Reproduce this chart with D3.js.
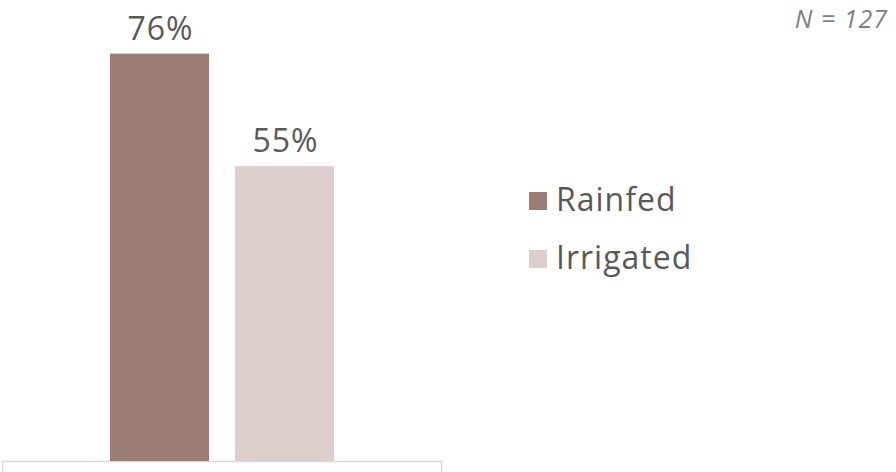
<!DOCTYPE html>
<html>
<head>
<meta charset="utf-8">
<script src="https://cdn.jsdelivr.net/npm/d3@7"></script>
<style>
  body { margin: 0; background: #fff; }
  svg { display: block; font-family: "Open Sans", sans-serif; letter-spacing: 1px; }
</style>
</head>
<body>
<div id="chart"></div>
<script>
var groups = ["All"];
var series = ["Rainfed", "Irrigated"];
var values = [76, 55];
var colors = ["#9c7d73", "#dccfcb"];
var note = "N = 127";

var svgWidth = 896;
var svgHeight = 472;

var svg = d3.select("#chart")
  .append("svg")
  .attr("width", svgWidth)
  .attr("height", svgHeight);

var baseline = 461;

var x0 = d3.scaleBand()
  .domain(groups)
  .range([2, 441]);

var x1 = d3.scaleBand()
  .domain(series)
  .range([108, 332])
  .paddingInner(0.208);

var y = d3.scaleLinear()
  .domain([0, 86])
  .range([baseline, 0]);

var bottomAxis = d3.axisBottom(x0)
  .tickSizeInner(0)
  .tickSizeOuter(14)
  .tickFormat("");

var xAxis = svg.append("g")
  .attr("transform", `translate(0, ${baseline})`)
  .call(bottomAxis);
xAxis.select(".domain")
  .attr("stroke", "#d9d9d9")
  .attr("stroke-width", 1.5);
xAxis.selectAll(".tick line").remove();

var barGroup = svg.append("g")
  .attr("transform", `translate(${x0("All")}, 0)`);

barGroup.selectAll("rect")
  .data(series)
  .enter()
  .append("rect")
  .attr("x", d => x1(d))
  .attr("y", (d, i) => y(values[i]))
  .attr("width", x1.bandwidth())
  .attr("height", (d, i) => baseline - y(values[i]))
  .attr("fill", (d, i) => colors[i]);

barGroup.selectAll(".val")
  .data(series)
  .enter()
  .append("text")
  .attr("class", "val")
  .attr("x", d => x1(d) + x1.bandwidth() / 2 + 1)
  .attr("y", (d, i) => y(values[i]) - 14)
  .attr("text-anchor", "middle")
  .attr("font-size", 32)
  .attr("fill", "#595959")
  .text((d, i) => values[i] + "%");

// legend
var legend = svg.append("g")
  .attr("transform", "translate(529, 192)");

var items = legend.selectAll("g")
  .data(series)
  .enter()
  .append("g")
  .attr("transform", (d, i) => `translate(0, ${i * 58})`);

items.append("rect")
  .attr("width", 18)
  .attr("height", 18)
  .attr("fill", (d, i) => colors[i]);

items.append("text")
  .attr("x", 27)
  .attr("y", 19)
  .attr("font-size", 32)
  .attr("fill", "#595959")
  .text(d => d);

svg.append("text")
  .attr("x", 888)
  .attr("y", 28)
  .attr("text-anchor", "end")
  .attr("font-size", 25)
  .attr("font-style", "italic")
  .attr("fill", "#808080")
  .text(note);
</script>
</body>
</html>
